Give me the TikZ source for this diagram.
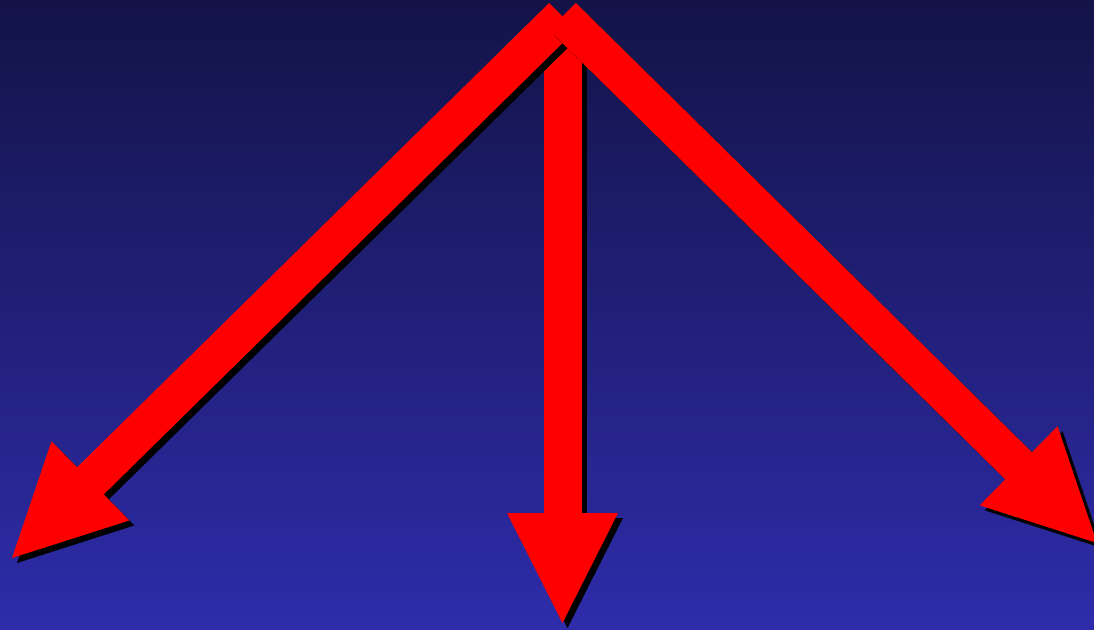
\documentclass[tikz,border=0pt]{standalone}
\usetikzlibrary{calc}
\definecolor{bgtop}{RGB}{19,19,72}
\definecolor{bgbottom}{RGB}{46,44,170}
\tikzset{
  shaft/.style={line width=38pt},
  shadow/.style={color=black, transform canvas={shift={(5pt,-5pt)}}},
}
% shaft from #1 to head, triangle head ending at #2
\newcommand{\bigarrow}[2]{%
  \coordinate (hb) at ($(#2)!110pt!(#1)$);
  \draw[shaft] (#1) -- ($(#2)!106pt!(#1)$);
  \fill (#2) -- ($(hb)!55.5pt!90:(#2)$) -- ($(hb)!55.5pt!-90:(#2)$) -- cycle;
}
\begin{document}
\begin{tikzpicture}[x=1pt, y=-1pt]
\shade[top color=bgtop, bottom color=bgbottom] (0,0) rectangle (1094,629);
\useasboundingbox (0,0) rectangle (1094,629);
\coordinate (top) at (562.5,16.5);
\coordinate (topM) at (562.5,24);
\coordinate (tipL) at (12,558);
\coordinate (tipM) at (562.5,623);
\coordinate (tipR) at (1097,543);
% down
\begin{scope}[shadow] \bigarrow{topM}{tipM} \end{scope}
\begin{scope}[red] \bigarrow{topM}{tipM} \end{scope}
% left
\begin{scope}[shadow] \bigarrow{top}{tipL} \end{scope}
\begin{scope}[red] \bigarrow{top}{tipL} \end{scope}
% right
\begin{scope}[shadow] \bigarrow{top}{tipR} \end{scope}
\begin{scope}[red] \bigarrow{top}{tipR} \end{scope}
\end{tikzpicture}
\end{document}
